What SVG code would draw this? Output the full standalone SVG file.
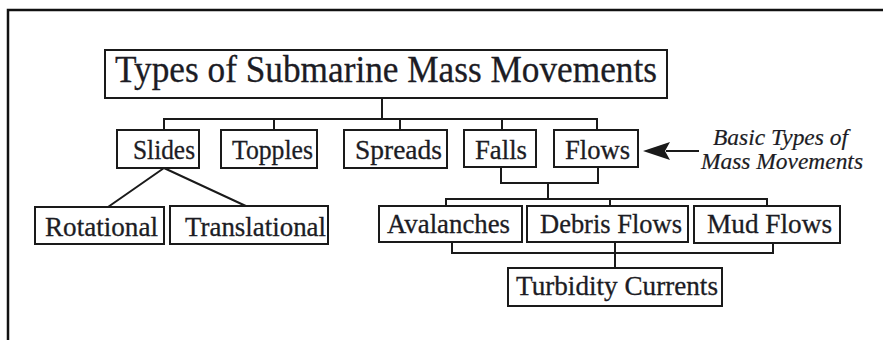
<svg xmlns="http://www.w3.org/2000/svg" width="883" height="340" viewBox="0 0 883 340">
<defs>
<style>
.box{fill:#fff;stroke:#1a1a1a;stroke-width:2}
.t{font-family:"Liberation Serif","Times New Roman",serif;fill:#1c1c24;stroke:#1c1c24;stroke-width:0.3;font-size:27px}
.ttl{font-size:37px}
.it{font-family:"Liberation Serif","Times New Roman",serif;font-style:italic;fill:#1c1c24;stroke:#1c1c24;stroke-width:0.2;font-size:24px}
.c{fill:none;stroke:#1a1a1a;stroke-width:2}
</style>
</defs>
<rect width="883" height="340" fill="#fff"/>
<path d="M8,340 V10 H883" fill="none" stroke="#111" stroke-width="2.5"/>

<g id="connectors">
<path class="c" d="M382,98 V119 M164,130 V119 H597 V130 M274,119 V130 M400,119 V130 M502,119 V130"/>
<path class="c" d="M164,168 L108,207 M164,168 L248,207"/>
<path class="c" d="M501,167 V183 H598 V167 M548,183 V199 M446,206 V199 H767 V206 M610,199 V206"/>
<path class="c" d="M452,242 V253 H773 V243 M615,242 V268"/>
<path class="c" d="M699,151 H666"/>
<path d="M643,151 L670,142 L665,151 L670,160 Z" fill="#1a1a1a"/>
</g>

<g id="title"><rect class="box" x="105" y="50" width="562" height="48"/><text class="t ttl" x="115" y="82" textLength="542" lengthAdjust="spacingAndGlyphs">Types of Submarine Mass Movements</text></g>
<g id="slides"><rect class="box" x="117" y="130" width="82" height="38"/><text class="t" x="133" y="159" textLength="62" lengthAdjust="spacingAndGlyphs">Slides</text></g>
<g id="topples"><rect class="box" x="221" y="130" width="96" height="38"/><text class="t" x="232" y="159" textLength="81" lengthAdjust="spacingAndGlyphs">Topples</text></g>
<g id="spreads"><rect class="box" x="344" y="130" width="103" height="38"/><text class="t" x="355" y="159" textLength="87" lengthAdjust="spacingAndGlyphs">Spreads</text></g>
<g id="falls"><rect class="box" x="464" y="130" width="72" height="37"/><text class="t" x="475" y="159" textLength="52" lengthAdjust="spacingAndGlyphs">Falls</text></g>
<g id="flows"><rect class="box" x="554" y="130" width="84" height="37"/><text class="t" x="565" y="159" textLength="65" lengthAdjust="spacingAndGlyphs">Flows</text></g>
<g id="note"><text class="it" x="713" y="145" textLength="135" lengthAdjust="spacingAndGlyphs">Basic Types of</text><text class="it" x="701" y="169" textLength="162" lengthAdjust="spacingAndGlyphs">Mass Movements</text></g>
<g id="rotational"><rect class="box" x="35" y="207" width="129" height="37"/><text class="t" x="45" y="236" textLength="113" lengthAdjust="spacingAndGlyphs">Rotational</text></g>
<g id="translational"><rect class="box" x="170" y="206" width="158" height="38"/><text class="t" x="185" y="236" textLength="141" lengthAdjust="spacingAndGlyphs">Translational</text></g>
<g id="avalanches"><rect class="box" x="379" y="206" width="143" height="36"/><text class="t" x="387" y="233" textLength="123" lengthAdjust="spacingAndGlyphs">Avalanches</text></g>
<g id="debris"><rect class="box" x="527" y="206" width="161" height="36"/><text class="t" x="540" y="233" textLength="142" lengthAdjust="spacingAndGlyphs">Debris Flows</text></g>
<g id="mud"><rect class="box" x="694" y="206" width="146" height="37"/><text class="t" x="707" y="233" textLength="125" lengthAdjust="spacingAndGlyphs">Mud Flows</text></g>
<g id="turbidity"><rect class="box" x="508" y="268" width="214" height="38"/><text class="t" x="516" y="295" textLength="202" lengthAdjust="spacingAndGlyphs">Turbidity Currents</text></g>
</svg>
